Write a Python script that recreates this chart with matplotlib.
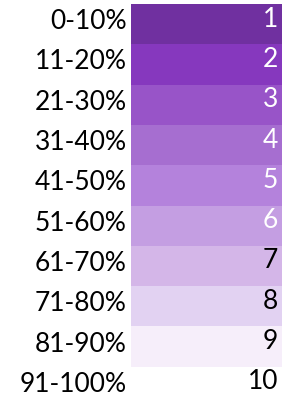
import matplotlib.pyplot as plt
from matplotlib.transforms import ScaledTranslation

# decile bands and their rank
bands = ['0-10%', '11-20%', '21-30%', '31-40%', '41-50%',
         '51-60%', '61-70%', '71-80%', '81-90%', '91-100%']
ranks = [1, 2, 3, 4, 5, 6, 7, 8, 9, 10]
colors = ['#7030A0', '#8638BE', '#9854C8', '#A66ED0', '#B482DC',
          '#C49EE2', '#D4B6E8', '#E2D2F2', '#F6EEFA', '#FFFFFF']
text_colors = ['white'] * 6 + ['black'] * 4

plt.rcParams['font.family'] = ['Lato', 'DejaVu Sans']

W, H = 284, 398
fig = plt.figure(figsize=(W / 100, H / 100), dpi=100)
row_h = 40.3
top = 4
ax = fig.add_axes([131 / W, 1 - (top + 10 * row_h) / H, 151 / W, 10 * row_h / H])

ypos = list(range(len(bands)))
ax.barh(ypos, 1, height=1, left=0, color=colors, edgecolor='none')
ax.set_xlim(0, 1)
ax.set_ylim(len(bands) - 0.5, -0.5)

# text sits a little above the middle of each cell, like spreadsheet cells
shift = ScaledTranslation(0, 5 / 100, fig.dpi_scale_trans)

ax.set_yticks(ypos)
ax.set_yticklabels(bands, fontsize=19)
ax.tick_params(axis='y', length=0, pad=3)
for lab in ax.get_yticklabels():
    lab.set_transform(lab.get_transform() + shift)
ax.set_xticks([])
for s in ax.spines.values():
    s.set_visible(False)

for y, r, tc in zip(ypos, ranks, text_colors):
    ax.text(0.975, y, str(r), ha='right', va='center', fontsize=19, color=tc,
            transform=ax.transData + shift)

fig.savefig('out.png', dpi=100)
